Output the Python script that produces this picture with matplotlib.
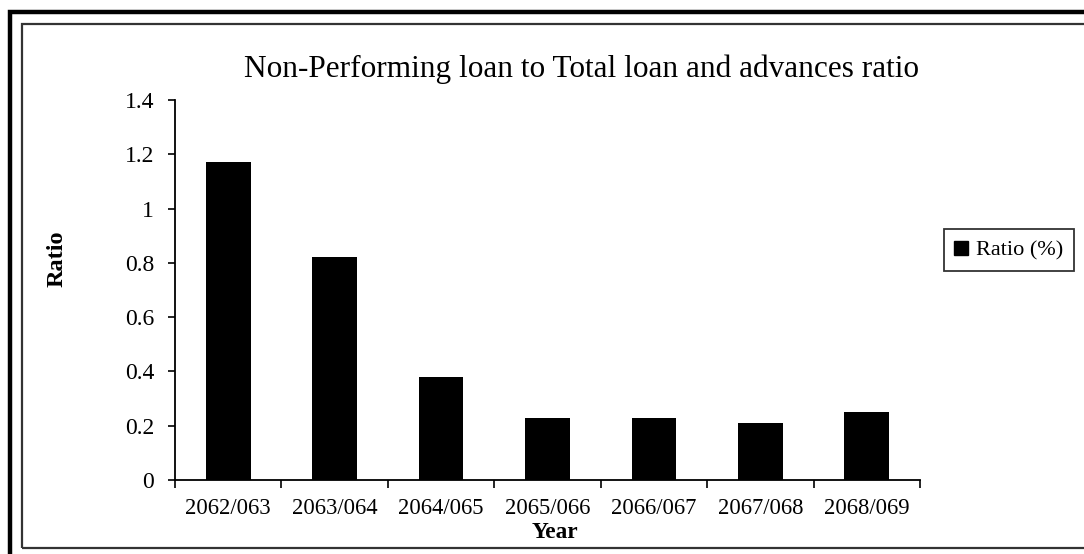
import numpy as np
import matplotlib.pyplot as plt
from matplotlib.patches import Rectangle
from matplotlib.lines import Line2D

years = ['2062/063', '2063/064', '2064/065', '2065/066', '2066/067', '2067/068', '2068/069']
ratio = [1.17, 0.82, 0.38, 0.23, 0.23, 0.21, 0.25]
yticks = [0, 0.2, 0.4, 0.6, 0.8, 1.0, 1.2, 1.4]
ytick_labels = ['0', '0.2', '0.4', '0.6', '0.8', '1', '1.2', '1.4']

plt.rcParams['font.family'] = ['Liberation Serif', 'DejaVu Serif']

W, H = 1084, 554
fig = plt.figure(figsize=(W / 100, H / 100), dpi=100)

# frame lines (pixel coords converted to figure fraction)
def fx(px):
    return px / W

def fy(py):
    return 1 - py / H

# thick outer frame, thin inner frame (both run off the right/bottom edge)
fig.add_artist(Rectangle((fx(10), fy(600)), fx(1200), fy(12) - fy(600), transform=fig.transFigure,
                         fill=False, edgecolor='black', linewidth=3.2))
fig.add_artist(Rectangle((fx(21.5), fy(548)), fx(1200), fy(24) - fy(548), transform=fig.transFigure,
                         fill=False, edgecolor='#333333', linewidth=1.6))

ax = fig.add_axes([fx(175), fy(480), fx(920) - fx(175), fy(100) - fy(480)])
x = np.arange(len(years))
bars = ax.bar(x, ratio, width=0.42, color='black', label='Ratio (%)')

ax.set_xlim(-0.5, len(years) - 0.5)
ax.set_ylim(0, 1.4)
ax.set_yticks(yticks)
ax.set_yticklabels(ytick_labels, fontsize=17)
ax.set_xticks(x)
ax.set_xticklabels(years, fontsize=16.3)
ax.tick_params(axis='x', length=0, pad=13)
ax.tick_params(axis='y', length=5, width=1.2, pad=10)
# boundary ticks between categories
ax.set_xticks(np.arange(-0.5, len(years)), minor=True)
ax.tick_params(axis='x', which='minor', length=6, width=1.2, direction='out')

for side in ['top', 'right']:
    ax.spines[side].set_visible(False)
for side in ['left', 'bottom']:
    ax.spines[side].set_linewidth(1.3)

fig.text(fx(581), fy(69), 'Non-Performing loan to Total loan and advances ratio',
         ha='center', va='center', fontsize=22.5)
fig.text(fx(555), fy(533), 'Year', ha='center', va='center', fontsize=16.8, fontweight='bold')
fig.text(fx(57), fy(259), 'Ratio', ha='center', va='center', fontsize=17.5,
         fontweight='bold', rotation=90)

handle = Line2D([], [], marker='s', color='black', linestyle='none', markersize=10)
leg = fig.legend([handle], ['Ratio (%)'], loc='center', bbox_to_anchor=(fx(1009), fy(250)),
                 frameon=True, fancybox=False, fontsize=16, handlelength=0.6,
                 handletextpad=0.35, borderpad=0.5, borderaxespad=0)
leg.get_frame().set_edgecolor('black')
leg.get_frame().set_linewidth(1.3)

fig.savefig('out.png', dpi=100)
